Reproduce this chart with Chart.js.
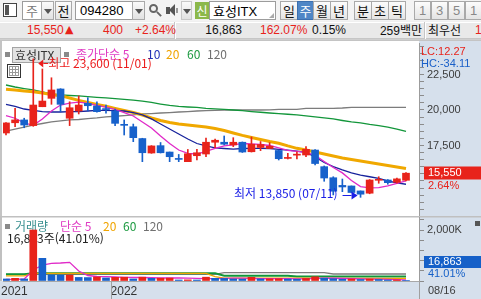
<!DOCTYPE html>
<html lang="ko">
<head>
<meta charset="utf-8">
<title>효성ITX 주봉</title>
<script src="https://cdn.jsdelivr.net/npm/chart.js@4.4.1/dist/chart.umd.min.js"></script>
<style>
  body { margin:0; width:481px; height:299px; overflow:hidden; position:relative;
         background:#f0f0f0; font-family:"Noto Sans CJK KR","Liberation Sans",sans-serif; }
  .a { position:absolute; box-sizing:border-box; }
  .k { font-size:13px; line-height:17px; text-align:center; color:#111; }
  .btn { top:1px; height:19px; border:1px solid #a9a9a9; background:linear-gradient(#fcfcfc,#e4e4e4); }
  .fld { top:1px; height:19px; border:1px solid #9c9c9c; background:#fff; }
  .dd  { top:1px; height:19px; border:1px solid #a9a9a9; background:linear-gradient(#fafafa,#e2e2e2); }
  .dd::after { content:""; position:absolute; left:50%; top:7px; margin-left:-4px;
               border-left:4px solid transparent; border-right:4px solid transparent; border-top:5px solid #555; }
  .n { font-family:"Liberation Sans",sans-serif; }
  .info { top:22px; height:16px; line-height:16px; font-size:12px; white-space:nowrap; }
  canvas { position:absolute; left:0; }
</style>
</head>
<body>
<!-- toolbar -->
<div class="a" style="left:0;top:0;width:481px;height:21px;background:#f3f3f3"></div>
<div class="a" style="left:3px;top:3px;width:14px;height:14px;border:1px solid #444;background:#fff">
  <div class="a" style="left:1px;top:1px;width:4px;height:10px;background:#555"></div>
</div>
<div class="a fld k" style="left:22px;width:20px;color:#777">주</div>
<div class="a dd" style="left:41px;width:13px"></div>
<div class="a btn k" style="left:55px;width:17px">전</div>
<div class="a fld n" style="left:75px;width:58px;padding-left:4px;font-size:13px;line-height:17px">094280</div>
<div class="a dd" style="left:132px;width:13px"></div>
<div class="a" style="left:149px;top:4px;width:9px;height:9px;border:2px solid #666;border-radius:50%"></div>
<div class="a" style="left:156px;top:13px;width:6px;height:2px;background:#666;transform:rotate(45deg)"></div>
<div class="a" style="left:166px;top:7px;width:4px;height:7px;background:#555"></div>
<div class="a" style="left:169px;top:4px;width:0;height:0;border-top:6px solid transparent;border-bottom:6px solid transparent;border-right:6px solid #555"></div>
<div class="a" style="left:176px;top:8px;width:2px;height:5px;background:#999"></div>
<div class="a dd" style="left:181px;width:11px;border-color:#c8c8c8"></div>
<div class="a k" style="left:195px;top:2px;width:14px;height:17px;background:#8cb84a;color:#fff;font-size:12px">신</div>
<div class="a fld" style="left:209px;width:67px;padding-left:3px;font-size:13px;line-height:17px">효성<span class="n">ITX</span>
  <div class="a" style="right:1px;bottom:1px;width:0;height:0;border-left:5px solid transparent;border-bottom:5px solid #aaa"></div>
</div>
<div class="a btn k" style="left:280px;width:18px">일</div>
<div class="a btn k" style="left:297px;width:17px;background:#4f86c6;color:#fff;border-color:#3c6fae">주</div>
<div class="a btn k" style="left:313px;width:18px">월</div>
<div class="a btn k" style="left:330px;width:18px">년</div>
<div class="a btn k" style="left:354px;width:18px">분</div>
<div class="a btn k" style="left:371px;width:18px">초</div>
<div class="a btn k" style="left:388px;width:18px">틱</div>
<div class="a btn k n" style="left:414px;width:17px;color:#888">1</div>
<div class="a btn k n" style="left:431px;width:17px;color:#888">3</div>
<div class="a btn k n" style="left:448px;width:17px;color:#888">5</div>
<div class="a btn k n" style="left:465px;width:17px;color:#888">1</div>

<!-- price info row -->
<div class="a" style="left:0;top:22px;width:481px;height:17px;background:#e9e9e9;border-top:1px solid #fff;border-bottom:1px solid #c6c6c6"></div>
<div class="a" style="left:174px;top:22px;width:2px;height:17px;border-left:1px solid #c6c6c6;background:#fff"></div>
<div class="a" style="left:424px;top:22px;width:2px;height:17px;border-left:1px solid #c6c6c6;background:#fff"></div>
<div class="a info n" id="iPrice" style="left:27px;color:#e8231b"></div>
<div class="a info" style="left:65px;color:#e8231b;font-family:'DejaVu Sans';font-size:11px">▲</div>
<div class="a info n" id="iChg" style="right:358px;color:#e8231b"></div>
<div class="a info n" id="iPct" style="left:135px;color:#e8231b"></div>
<div class="a info n" id="iVol" style="right:239px;color:#111"></div>
<div class="a info n" id="iVolPct" style="left:260px;color:#e8231b"></div>
<div class="a info n" style="left:312px;color:#111">0.15%</div>
<div class="a info" style="right:59px;color:#111"><span class="n">259</span>백만</div>
<div class="a info" style="left:428px;color:#111">최우선</div>
<div class="a info n" style="left:475px;color:#e8231b">1</div>
<div class="a" style="left:0;top:39px;width:481px;height:1px;background:#cfcfcf"></div>

<canvas id="price" width="481" height="176" style="top:40px"></canvas>
<canvas id="volume" width="481" height="83" style="top:216px"></canvas>

<script>
// 효성ITX (094280) weekly candles, Oct 2021 - Aug 2022
var weeks = ['2021-10-11','2021-10-18','2021-10-25','2021-11-01','2021-11-08','2021-11-15','2021-11-22','2021-11-29',
  '2021-12-06','2021-12-13','2021-12-20','2021-12-27','2022-01-03','2022-01-10','2022-01-17','2022-01-24',
  '2022-01-31','2022-02-07','2022-02-14','2022-02-21','2022-02-28','2022-03-07','2022-03-14','2022-03-21',
  '2022-03-28','2022-04-04','2022-04-11','2022-04-18','2022-04-25','2022-05-02','2022-05-09','2022-05-16',
  '2022-05-23','2022-05-30','2022-06-06','2022-06-13','2022-06-20','2022-06-27','2022-07-04','2022-07-11',
  '2022-07-18','2022-07-25','2022-08-01','2022-08-08','2022-08-15'];
var opens = [18380,19100,19300,18900,20230,20820,21480,19420,19930,20470,20280,20070,19930,18960,18820,17990,
  16970,17490,17040,16540,16360,16780,16900,17730,17730,17540,17730,17060,17360,17290,17150,16590,
  16820,16830,17180,16010,15230,14690,14650,14300,14140,15050,15070,14910,15050];
var highs = [19110,20120,19420,23600,22890,22270,21500,20580,20990,20870,20580,20350,20070,19300,19010,18010,
  17490,17710,17040,16870,17220,17230,18030,17960,18170,18050,17750,18100,17780,17700,17180,16950,
  17060,17420,17220,16060,15300,15140,14650,14300,15100,15300,15100,15200,15600];
var lows = [18240,18820,18750,18850,20230,20400,19880,18900,19720,19930,19840,19770,18900,18240,17770,16360,
  16950,16970,16360,16360,16360,16480,16710,17350,17540,17420,17010,17040,17140,17280,16480,16550,
  16550,16710,16130,14980,14020,14250,14160,13850,14100,14840,14770,14840,15000];
var closes = [19090,19300,18940,20350,20630,21410,20400,20160,20350,20300,19880,20030,19060,18920,18050,16990,
  17470,16990,16710,16520,16920,16990,17730,17870,17590,17730,17040,17590,17570,17450,16570,16620,
  16850,17230,16230,15210,14280,14580,14190,14070,15070,15100,14880,15150,15550];
var volumes = [80000,105000,80000,2000000,890000,235000,230000,235000,140000,135000,160000,120000,145000,150000,
  80000,150000,105000,110000,115000,40000,45000,40000,150000,105000,100000,80000,75000,145000,80000,85000,
  90000,75000,70000,100000,165000,110000,90000,70000,80000,60000,75000,60000,38000,41120,16863];

// moving averages as drawn on the chart
var ma5 = [19610,19420,19090,18920,19370,19930,20350,20490,20560,20460,20320,20210,20040,19820,19580,19160,
  18730,18170,17640,17180,16940,16900,17080,17290,17470,17540,17640,17610,17570,17500,17330,17150,
  17080,17010,16800,16370,15950,15570,15040,14610,14510,14540,14650,14830,15000];
var ma10 = [20390,20250,20070,19970,19880,19860,19860,19880,19890,19930,19970,19970,19950,19930,19820,19650,
  19370,19010,18660,18310,17960,17640,17470,17330,17290,17250,17290,17300,17300,17290,17230,17180,
  17110,17010,16690,16300,16010,15780,15570,15420,15300,15180,15000,14860,14770];
var ma20 = [21460,21410,21340,21290,21200,21090,21010,20850,20680,20530,20390,20260,20110,19970,19820,19650,
  19440,19260,19120,19010,18940,18870,18800,18700,18560,18380,18210,18060,17920,17780,17660,17470,
  17300,17180,17040,16900,16760,16620,16520,16410,16300,16200,16090,15990,15880];
var ma60 = [21760,21620,21510,21410,21270,21130,21060,21020,20990,20940,20890,20850,20800,20750,20700,20630,
  20530,20420,20320,20250,20210,20180,20120,20080,20050,20000,19950,19890,19840,19790,19750,19700,
  19650,19580,19510,19440,19370,19260,19160,19090,18980,18900,18800,18660,18490];
var ma120 = [18520,18660,18800,18940,19050,19160,19230,19300,19330,19390,19440,19510,19560,19610,19660,19720,
  19750,19790,19820,19860,19890,19930,19950,19980,20000,20000,20000,20000,20000,20010,20040,20040,
  20050,20120,20120,20120,20120,20140,20180,20190,20190,20190,20190,20190,20190];
var volMa5 = [59000,67000,78000,431000,627000,694000,706000,733000,392000,216000,176000,169000,157000,140000,
  137000,137000,127000,118000,118000,118000,110000,100000,90000,90000,105000,110000,110000,100000,97000,
  95000,95000,90000,85000,85000,100000,107000,107000,105000,97000,80000,70000,70000,65000,55000,47000];
var volMa20 = [200000,200000,200000,298000,298000,298000,298000,298000,298000,298000,298000,298000,298000,298000,
  298000,298000,298000,298000,298000,298000,298000,298000,298000,175000,110000,110000,110000,110000,110000,
  110000,110000,110000,110000,110000,100000,100000,100000,100000,100000,100000,100000,100000,100000,100000,100000];
var volMa60 = [265000,265000,265000,305000,305000,305000,305000,305000,305000,305000,305000,305000,305000,305000,
  305000,305000,305000,305000,305000,305000,305000,305000,305000,305000,210000,210000,210000,210000,210000,
  210000,210000,210000,180000,180000,180000,180000,180000,180000,180000,180000,180000,180000,180000,180000,180000];
var volMa120 = [263000,263000,263000,263000,263000,263000,263000,263000,263000,263000,263000,263000,263000,263000,
  263000,263000,263000,263000,263000,263000,263000,263000,263000,263000,325000,325000,325000,325000,325000,
  325000,325000,325000,325000,325000,325000,325000,275000,275000,275000,275000,275000,275000,275000,275000,275000];

var priceLabels = [17500, 20000, 22500];
var volumeLabels = [2000000];

var UP = '#e8231b', DOWN = '#1761cb', AXIS_BG = '#d6e0ec';
var NUM = '"Liberation Sans",sans-serif';
var KO = '"Noto Sans CJK KR",sans-serif';
var X_MIN = -0.33, X_MAX = 45.43;

Chart.defaults.font.family = NUM;
Chart.defaults.font.size = 11;

var last = closes.length - 1;
var fmt = function (v) { return v.toLocaleString('en-US'); };
var md = function (d) { return d.slice(5, 7) + '/' + d.slice(8, 10); };
var pts = function (arr) { return arr.map(function (v, i) { return {x: i, y: v}; }); };
var change = closes[last] - closes[last - 1];
var changePct = (change / closes[last - 1] * 100).toFixed(2);
var volPct = (volumes[last] / volumes[last - 1] * 100).toFixed(2);

document.getElementById('iPrice').textContent = fmt(closes[last]);
document.getElementById('iChg').textContent = fmt(change);
document.getElementById('iPct').textContent = '+' + changePct + '%';
document.getElementById('iVol').textContent = fmt(volumes[last]);
document.getElementById('iVolPct').textContent = '162.07%';

function maLine(data, color, width, order) {
  return {type: 'line', data: pts(data), borderColor: color, borderWidth: width,
          pointRadius: 0, tension: 0, order: order};
}

function sideAxis(min, max, step, labels, format) {
  return {
    position: 'right', min: min, max: max,
    afterBuildTicks: function (s) {
      s.ticks = [];
      for (var v = Math.ceil(min / step) * step; v < max; v += step) s.ticks.push({value: v});
    },
    afterFit: function (s) { s.width = 62; s.paddingTop = 0; s.paddingBottom = 0; },
    grid: {drawOnChartArea: false, drawTicks: true, tickLength: 5, color: '#8c8c8c'},
    border: {display: true, color: '#9c9c9c'},
    ticks: {padding: 3, color: '#3c3c3c', font: {size: 11}, autoSkip: false,
            callback: function (v) { return labels.indexOf(v) >= 0 ? format(v) : ''; }}
  };
}

function legend(ctx, x, y, parts) {
  parts.forEach(function (p) {
    ctx.fillStyle = p[1];
    ctx.fillText(p[0], x + p[2], y);
  });
}

// ---------- price panel ----------
var candleColors = closes.map(function (c, i) { return c >= opens[i] ? UP : DOWN; });

var priceDeco = {
  id: 'priceDeco',
  beforeDraw: function (chart) {
    var ctx = chart.ctx, a = chart.chartArea;
    ctx.save();
    ctx.fillStyle = AXIS_BG; ctx.fillRect(0, 0, chart.width, chart.height);
    ctx.fillStyle = '#fff'; ctx.fillRect(2, 1, a.right - 2, chart.height - 1);
    ctx.fillStyle = '#c4c4c4'; ctx.fillRect(0, 0, 2, chart.height); ctx.fillRect(0, 0, chart.width, 1);
    ctx.restore();
  },
  beforeDatasetsDraw: function (chart) {
    var ctx = chart.ctx;
    ctx.save();
    ctx.fillStyle = '#8a8a8a';
    ctx.fillRect(5, 12, 5, 5); ctx.fillRect(64, 12, 5, 5);
    ctx.fillStyle = '#e2e2e2'; ctx.fillRect(12.5, 7.5, 48, 15);
    ctx.strokeStyle = '#a4a4a4'; ctx.strokeRect(12.5, 7.5, 48, 15);
    ctx.font = '12px ' + KO; ctx.textBaseline = 'middle';
    ctx.fillStyle = '#333'; ctx.fillText('효성ITX', 15, 15.5);
    legend(ctx, 76, 14, [['종가단순 5', '#e03cc4', 0], ['10', '#2030b8', 71], ['20', '#f0a400', 90],
                         ['60', '#1c9a40', 111], ['120', '#707070', 131]]);
    // grid icon
    ctx.strokeStyle = '#333'; ctx.lineWidth = 1;
    ctx.strokeRect(7.5, 24.5, 13, 13);
    ctx.strokeStyle = '#999';
    ctx.strokeRect(9.5, 26.5, 9, 9);
    ctx.beginPath();
    ctx.moveTo(12.5, 26.5); ctx.lineTo(12.5, 35.5); ctx.moveTo(15.5, 26.5); ctx.lineTo(15.5, 35.5);
    ctx.moveTo(9.5, 29.5); ctx.lineTo(18.5, 29.5); ctx.moveTo(9.5, 32.5); ctx.lineTo(18.5, 32.5);
    ctx.stroke();
    ctx.restore();
  },
  afterDatasetsDraw: function (chart) {
    var ctx = chart.ctx, xs = chart.scales.x, ys = chart.scales.y;
    ctx.save();
    ctx.font = '12px ' + KO; ctx.textBaseline = 'middle';
    // highest
    var hi = highs.indexOf(Math.max.apply(null, highs));
    var hx = xs.getPixelForValue(hi), hy = Math.round(ys.getPixelForValue(highs[hi])) + 4.5;
    ctx.fillStyle = '#ec1c1c';
    ctx.beginPath(); ctx.moveTo(hx + 5, hy); ctx.lineTo(hx + 10, hy - 4); ctx.lineTo(hx + 10, hy + 4); ctx.closePath(); ctx.fill();
    ctx.fillRect(hx + 10, hy - 0.5, 5, 1);
    ctx.fillText('최고 ' + fmt(highs[hi]) + ' (' + md(weeks[hi]) + ')', hx + 15, hy);
    // lowest
    var lo = lows.indexOf(Math.min.apply(null, lows));
    var lx = xs.getPixelForValue(lo) - 3, ly = Math.round(ys.getPixelForValue(lows[lo])) - 1.5;
    ctx.fillStyle = '#1a1ee6';
    ctx.beginPath(); ctx.moveTo(lx, ly); ctx.lineTo(lx - 6, ly - 4); ctx.lineTo(lx - 6, ly + 4); ctx.closePath(); ctx.fill();
    ctx.fillRect(lx - 15, ly - 0.5, 9, 1);
    ctx.textAlign = 'right';
    ctx.fillText('최저 ' + fmt(lows[lo]) + ' (' + md(weeks[lo]) + ')', lx - 20, ly - 2);
    ctx.restore();
  },
  afterDraw: function (chart) {
    var ctx = chart.ctx, a = chart.chartArea, ys = chart.scales.y;
    ctx.save();
    ctx.font = '11px ' + NUM; ctx.textBaseline = 'middle';
    ctx.fillStyle = UP; ctx.fillText('LC:12.27', a.right + 2, 12);
    ctx.fillStyle = '#1a5fc8'; ctx.fillText('HC:-34.11', a.right + 2, 24);
    var cy = Math.round(ys.getPixelForValue(closes[last]));
    ctx.fillStyle = UP; ctx.fillRect(a.right + 5, cy - 6.5, chart.width - a.right - 5, 13);
    ctx.fillStyle = '#fff'; ctx.fillText(fmt(closes[last]), a.right + 9, cy);
    ctx.fillStyle = UP; ctx.fillText(changePct + '%', a.right + 9, cy + 13);
    ctx.restore();
  }
};

new Chart(document.getElementById('price'), {
  type: 'bar',
  data: {
    datasets: [
      {data: weeks.map(function (w, i) { return {x: i, y: [opens[i], closes[i]]}; }),
       backgroundColor: candleColors, barThickness: 7, grouped: false, minBarLength: 1, order: 0},
      {data: weeks.map(function (w, i) { return {x: i, y: [lows[i], highs[i]]}; }),
       backgroundColor: candleColors, barThickness: 1, grouped: false, order: 1},
      maLine(ma120, '#7c7c7c', 1.3, 6),
      maLine(ma60, '#12963a', 1.3, 5),
      maLine(ma20, '#f0a800', 3, 4),
      maLine(ma10, '#17239c', 1.3, 3),
      maLine(ma5, '#e02ac8', 1.3, 2)
    ]
  },
  options: {
    responsive: false, animation: false, devicePixelRatio: 1, events: [],
    layout: {padding: {left: 3, top: 3, right: 0, bottom: 0}},
    plugins: {legend: {display: false}, tooltip: {enabled: false}},
    scales: {
      x: {type: 'linear', min: X_MIN, max: X_MAX, offset: false, display: false},
      y: sideAxis(12535, 24718, 500, priceLabels, fmt)
    }
  },
  plugins: [priceDeco]
});

// ---------- volume panel ----------
var volColors = volumes.map(function (v, i) { return i > 0 && v > volumes[i - 1] ? UP : DOWN; });
var yearMarks = weeks.map(function (w, i) { return i; }).filter(function (i) {
  return i === 0 || weeks[i].slice(0, 4) !== weeks[i - 1].slice(0, 4);
});
var yearValue = function (i) { return i === 0 ? X_MIN - 0.22 : i - 0.5; };

var volumeDeco = {
  id: 'volumeDeco',
  beforeDraw: function (chart) {
    var ctx = chart.ctx, a = chart.chartArea;
    ctx.save();
    ctx.fillStyle = AXIS_BG; ctx.fillRect(0, 0, chart.width, chart.height);
    ctx.fillStyle = '#fff'; ctx.fillRect(2, 1, a.right - 2, a.bottom - 1);
    ctx.fillStyle = '#c0c0c0'; ctx.fillRect(0, 0, chart.width, 1.5); ctx.fillRect(0, 0, 2, a.bottom);
    ctx.restore();
  },
  beforeDatasetsDraw: function (chart) {
    var ctx = chart.ctx;
    ctx.save();
    ctx.fillStyle = '#8a8a8a'; ctx.fillRect(5, 8, 5, 5);
    ctx.font = '12px ' + KO; ctx.textBaseline = 'middle';
    legend(ctx, 15, 10, [['거래량', '#3a9090', 0], ['단순 5', '#e03cc4', 45], ['20', '#f0a400', 88],
                         ['60', '#1c9a40', 108], ['120', '#707070', 128]]);
    ctx.fillStyle = '#222';
    ctx.fillText(fmt(volumes[last]) + '주(' + volPct + '%)', 7, 22);
    ctx.restore();
  },
  afterDraw: function (chart) {
    var ctx = chart.ctx, a = chart.chartArea, xs = chart.scales.x;
    ctx.save();
    ctx.fillStyle = '#a0a0a0';
    yearMarks.slice(1).forEach(function (i) {
      ctx.fillRect(Math.round(xs.getPixelForValue(yearValue(i))), a.bottom, 1, chart.height - a.bottom);
    });
    ctx.fillRect(a.right, a.bottom, 1, chart.height - a.bottom);
    ctx.font = '11px ' + NUM; ctx.textBaseline = 'middle';
    ctx.fillStyle = '#1560c8'; ctx.fillRect(a.right + 5, 40, chart.width - a.right - 5, 12);
    ctx.fillStyle = '#fff'; ctx.fillText(fmt(volumes[last]), a.right + 9, 46);
    ctx.fillStyle = '#1560c8'; ctx.fillText(volPct + '%', a.right + 9, 58);
    ctx.fillStyle = '#3c3c3c'; ctx.fillText(md(weeks[last]).replace('/15', '/16'), a.right + 9, a.bottom + 10);
    ctx.fillStyle = '#555'; ctx.fillRect(chart.width - 6, 5, 5, 5);
    ctx.restore();
  }
};

new Chart(document.getElementById('volume'), {
  type: 'bar',
  data: {
    datasets: [
      {data: pts(volumes), backgroundColor: volColors, barThickness: 7, order: 0},
      maLine(volMa120, '#7c7c7c', 1.3, 4),
      maLine(volMa60, '#12963a', 2, 3),
      maLine(volMa20, '#f0a800', 1.3, 2),
      maLine(volMa5, '#e02ac8', 1.3, 1)
    ]
  },
  options: {
    responsive: false, animation: false, devicePixelRatio: 1, events: [],
    layout: {padding: {left: 3, top: 1, right: 0, bottom: 0}},
    plugins: {legend: {display: false}, tooltip: {enabled: false}},
    scales: {
      x: {type: 'linear', min: X_MIN, max: X_MAX, offset: false, position: 'bottom',
          afterBuildTicks: function (s) { s.ticks = yearMarks.map(function (i) { return {value: yearValue(i)}; }); },
          afterFit: function (s) { s.height = 18; s.paddingLeft = 0; s.paddingRight = 0; },
          grid: {drawOnChartArea: false, drawTicks: false},
          border: {display: true, color: '#a8a8a8'},
          ticks: {align: 'start', padding: 3, color: '#333', font: {size: 12}, maxRotation: 0, autoSkip: false,
                  callback: function (v) {
                    var m = yearMarks.filter(function (i) { return Math.abs(yearValue(i) - v) < 1e-6; });
                    return m.length ? weeks[m[0]].slice(0, 4) : '';
                  }}},
      y: sideAxis(0, 2510000, 400000, volumeLabels, function (v) { return fmt(v / 1000) + 'K'; })
    }
  },
  plugins: [volumeDeco]
});
</script>
</body>
</html>
